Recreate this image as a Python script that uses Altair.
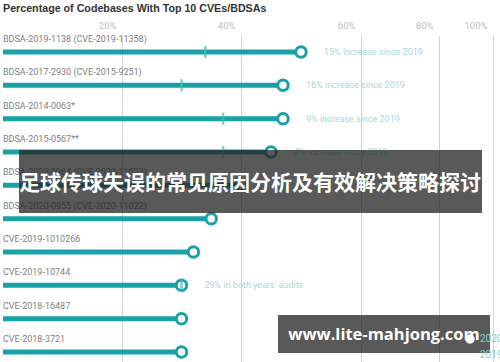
import altair as alt
import pandas as pd

labels = [
    "BDSA-2019-1138 (CVE-2019-11358)",
    "BDSA-2017-2930 (CVE-2015-9251)",
    "BDSA-2014-0063*",
    "BDSA-2015-0567**",
    "BDSA-2020-0964 (CVE-2020-11023)",
    "BDSA-2020-0955 (CVE-2020-11022)",
    "CVE-2019-1010266",
    "CVE-2019-10744",
    "CVE-2018-16487",
    "CVE-2018-3721",
]
pct_2020 = [50, 47, 47, 45, 40, 35, 32, 30, 30, 30]
pct_2019 = [34, 30, 37, 37, None, None, None, 30, None, None]
notes = [
    "15% increase since 2019",
    "16% increase since 2019",
    "9% increase since 2019",
    "4% increase since 2019",
    "", "", "",
    "29% in both years' audits",
    "", "",
]
tick_values = [20, 40, 60, 80, 100]
banner_text = ["足球传球失误的常见原因分析及有效解决策略探讨", "www.lite-mahjong.com"]

TEAL = "#18a1a6"
TICK = "#4fb8bb"

df = pd.DataFrame({
    "label": labels,
    "v2020": pct_2020,
    "v2019": pct_2019,
    "note": notes,
    "start": [0] * len(labels),
    "year": ["2020"] * len(labels),
})
df19 = df.dropna(subset=["v2019"])
dnote = df[df["note"] != ""]

xscale = alt.Scale(domain=[0, 20, 40, 60, 80, 100], range=[3, 122, 241, 361, 439, 493], nice=False, zero=False)
yscale = alt.Scale(domain=labels, range=[13.3, 346.7])

xaxis = alt.Axis(
    orient="top", values=tick_values, labelExpr="datum.value + '%'", title=None,
    grid=True, gridColor="#d3d3d3", gridWidth=1, domain=False, ticks=False,
    labelPadding=-8, labelAlign="right", labelOffset=-6, labelColor="#c0c0c0",
    labelFont="Roboto", labelFontSize=9.5,
)

base = alt.Chart(df)

rules = base.mark_rule(color=TEAL, strokeWidth=5).encode(
    x=alt.X("start:Q", scale=xscale, axis=xaxis),
    x2="v2020:Q",
    y=alt.Y("label:N", scale=yscale, axis=None),
)

row_labels = base.mark_text(align="left", baseline="middle", dy=-13, font="Roboto",
                            fontSize=9, color="#808080").encode(
    x=alt.X("start:Q", scale=xscale),
    y=alt.Y("label:N", scale=yscale),
    text="label:N",
)

dots = base.mark_point(filled=True, fill="white", stroke=TEAL, strokeWidth=3, size=110, opacity=1).encode(
    x=alt.X("v2020:Q", scale=xscale),
    y=alt.Y("label:N", scale=yscale),
    shape=alt.Shape("year:N", scale=alt.Scale(domain=["2020", "2019"], range=["circle", "M-1,0L1,0"]),
                    legend=alt.Legend(title=None, orient="none", legendX=464, legendY=311,
                                      labelFont="Roboto", labelFontSize=10, labelColor="#8ccbcd",
                                      symbolFillColor="white", symbolStrokeColor=TEAL,
                                      symbolStrokeWidth=2.5, symbolSize=90, rowPadding=0)),
)

ticks = alt.Chart(df19).mark_tick(color=TICK, thickness=2.5, size=12, orient="vertical").encode(
    x=alt.X("v2019:Q", scale=xscale),
    y=alt.Y("label:N", scale=yscale),
)

note_text = alt.Chart(dnote).mark_text(align="left", baseline="middle", dx=23, font="Roboto",
                                       fontSize=9, color="#a6d7d9").encode(
    x=alt.X("v2020:Q", scale=xscale),
    y=alt.Y("label:N", scale=yscale),
    text="note:N",
)

b1 = pd.DataFrame({"t": [banner_text[0]]})
b2 = pd.DataFrame({"t": [banner_text[1]]})

banner1_bg = alt.Chart(b1).mark_rect(fill="#222222", opacity=0.75).encode(
    x=alt.value(19), x2=alt.value(482), y=alt.value(128), y2=alt.value(191))
banner1_tx = alt.Chart(b1).mark_text(font="Noto Sans CJK SC", fontWeight="bold", fontSize=21,
                                     color="white", align="center", baseline="middle").encode(
    x=alt.value(250), y=alt.value(162), text="t:N")
banner2_bg = alt.Chart(b2).mark_rect(fill="#222222", opacity=0.75).encode(
    x=alt.value(278), x2=alt.value(490), y=alt.value(293), y2=alt.value(331))
banner2_tx = alt.Chart(b2).mark_text(font="Open Sans", fontWeight="bold", fontSize=16.5,
                                     color="white", align="center", baseline="middle").encode(
    x=alt.value(384), y=alt.value(313), text="t:N")

chart = alt.layer(
    rules, row_labels, dots, ticks, note_text,
    banner1_bg, banner1_tx, banner2_bg, banner2_tx,
).properties(
    width=500, height=333,
    autosize=alt.AutoSizeParams(type="none"),
    padding={"top": 22, "left": 0, "right": 0, "bottom": 7},
    title=alt.TitleParams("Percentage of Codebases With Top 10 CVEs/BDSAs", anchor="start",
                          font="Liberation Sans", fontSize=10.7, fontWeight="bold",
                          color="#333333", offset=5, dx=3),
).configure_view(stroke=None)

chart.save("out.html", embed_options={"renderer": "svg", "actions": False})
